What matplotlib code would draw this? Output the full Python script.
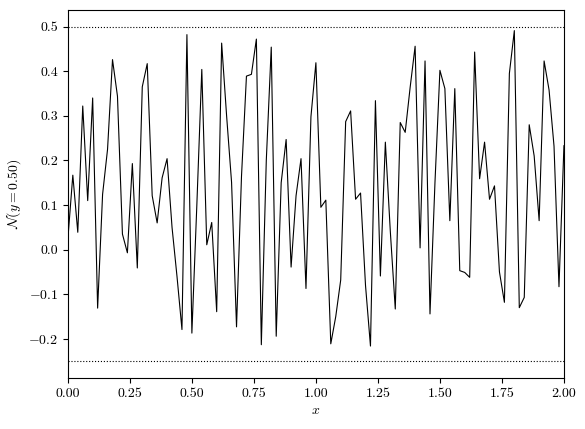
import numpy as np
import matplotlib
matplotlib.use("Agg")
import matplotlib.pyplot as plt

plt.rcParams['font.family'] = 'serif'
plt.rcParams['font.serif'] = ['cmr10']
plt.rcParams['mathtext.fontset'] = 'cm'
plt.rcParams['axes.formatter.use_mathtext'] = True

x = np.linspace(0, 2, 101)
y = [0.024, 0.167, 0.039, 0.322, 0.110, 0.340, -0.131, 0.124, 0.225, 0.426,
     0.344, 0.035, -0.007, 0.193, -0.041, 0.365, 0.417, 0.121, 0.060, 0.161,
     0.204, 0.050, -0.060, -0.179, 0.482, -0.187, 0.100, 0.404, 0.011, 0.061,
     -0.139, 0.463, 0.300, 0.151, -0.173, 0.164, 0.389, 0.393, 0.472, -0.213,
     0.200, 0.454, -0.194, 0.150, 0.247, -0.039, 0.121, 0.204, -0.087, 0.298,
     0.419, 0.095, 0.111, -0.211, -0.150, -0.068, 0.287, 0.311, 0.113, 0.127,
     -0.080, -0.216, 0.334, -0.059, 0.241, 0.041, -0.133, 0.285, 0.263, 0.364,
     0.456, 0.004, 0.423, -0.144, 0.150, 0.402, 0.361, 0.065, 0.361, -0.047,
     -0.051, -0.062, 0.443, 0.159, 0.241, 0.113, 0.143, -0.050, -0.118, 0.395,
     0.491, -0.130, -0.107, 0.280, 0.210, 0.065, 0.423, 0.358, 0.232, -0.083,
     0.233]
upper = 0.5
lower = -0.25

fig = plt.figure(figsize=(5.85, 4.29), dpi=100)
ax = fig.add_axes([0.116, 0.119, 0.848, 0.858])
ax.plot(x, y, color='black', lw=0.8)
ax.axhline(upper, color='black', ls=':', lw=0.8)
ax.axhline(lower, color='black', ls=':', lw=0.8)
ax.set_xlim(0, 2)
ax.set_ylim(-0.2875, 0.5375)
ax.set_xticks([0, 0.25, 0.5, 0.75, 1.0, 1.25, 1.5, 1.75, 2.0])
ax.set_xticklabels(['0.00', '0.25', '0.50', '0.75', '1.00', '1.25', '1.50', '1.75', '2.00'])
ax.set_yticks([-0.2, -0.1, 0.0, 0.1, 0.2, 0.3, 0.4, 0.5])
ax.set_yticklabels(['$-0.2$', '$-0.1$', '0.0', '0.1', '0.2', '0.3', '0.4', '0.5'])
ax.set_xlabel('$x$')
ax.set_ylabel(r'$\mathcal{N}(y=0.50)$')
fig.savefig('out.png', dpi=100)
